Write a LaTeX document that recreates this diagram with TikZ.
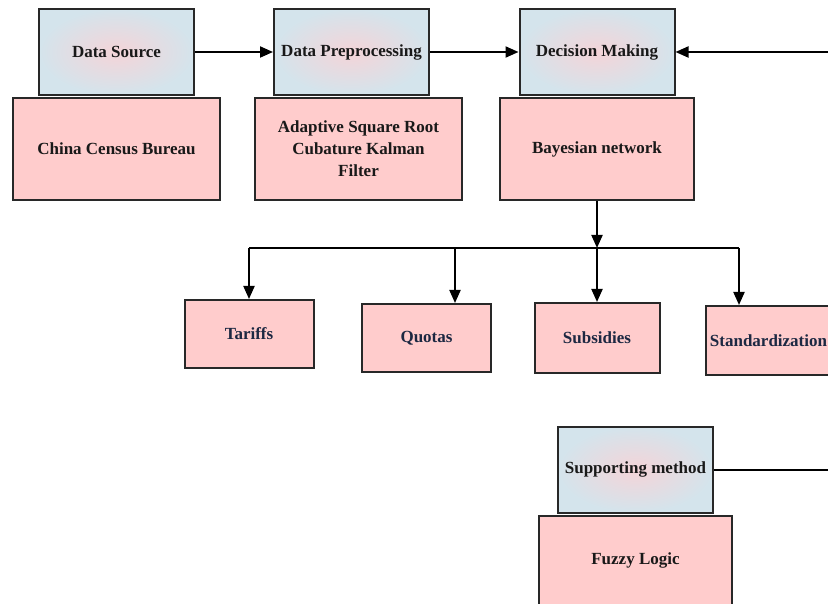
\documentclass[tikz,border=0pt]{standalone}
\usepackage{fontspec}
\setmainfont{Liberation Serif}
\usepackage{xcolor}
\usetikzlibrary{arrows.meta,positioning}
\definecolor{boxPink}{RGB}{255,204,204}
\definecolor{boxBlue}{RGB}{212,228,236}
\definecolor{boxBlush}{RGB}{244,212,216}
\definecolor{boxEdge}{RGB}{40,40,40}
\definecolor{txtNavy}{RGB}{28,40,66}
\definecolor{txtDark}{RGB}{25,25,25}

\tikzset{
  stage/.style={draw=boxEdge, line width=2pt, inner sep=0pt,
    inner color=boxBlush, outer color=boxBlue, text=txtDark,
    font=\bfseries\fontsize{17}{22}\selectfont,
    minimum width=155pt, minimum height=86pt},
  method/.style={draw=boxEdge, line width=2pt, fill=boxPink, inner sep=0pt,
    text=txtDark, font=\bfseries\fontsize{17}{22}\selectfont, align=center,
    minimum width=207pt, minimum height=102pt},
  policy/.style={method, text=txtNavy, minimum width=129pt, minimum height=68pt},
  link/.style={black, line width=2pt},
  arr/.style={link, -{Triangle[length=13pt,width=11pt]}}
}

\begin{document}
\begin{tikzpicture}[x=1pt,y=-1pt]
\clip (0,0) rectangle (828,604);
\fill[white] (0,0) rectangle (828,604);
% top row
\node[stage] (src) at (116.5,52) {Data Source};
\node[method, below=1pt of src] (census) {China Census Bureau};
\node[stage] (prep) at (351.5,52) {Data Preprocessing};
\node[method, below=1pt of prep, xshift=7pt] (filter) {Adaptive Square Root\\Cubature Kalman\\Filter};
\node[stage] (decide) at (597,52) {Decision Making};
\node[method, below=1pt of decide, minimum width=194pt] (bayes) {Bayesian network};
% policy instruments
\node[policy] (tariffs) at (249,334) {Tariffs};
\node[policy] (quotas) at (426.5,338) {Quotas};
\node[policy, minimum width=125pt, minimum height=70pt] (subsidies) at (597,338) {Subsidies};
\node[policy, minimum width=125pt, minimum height=69pt] (standard) at (768.5,340.5) {Standardization};
% supporting method
\node[stage] (support) at (635.5,469.5) {Supporting method};
\node[method, below=1pt of support, minimum width=193pt, minimum height=90pt] (fuzzy) {Fuzzy Logic};

\coordinate (rin) at (828,52);
\coordinate (rsup) at (828,470);
\coordinate (split) at (597,248);
\coordinate (bq) at (455,248);
\coordinate (bs) at (739,248);

\draw[arr] (src.east) -- (prep.west);
\draw[arr] (prep.east) -- (decide.west);
\draw[arr] (rin) -- (decide.east);
\draw[arr] (bayes.south) -- (split);
\draw[link] (tariffs.north |- split) -- (bs);
\draw[arr] (tariffs.north |- split) -- (tariffs.north);
\draw[arr] (bq) -- (bq |- quotas.north);
\draw[arr] (split) -- (split |- subsidies.north);
\draw[arr] (bs) -- (bs |- standard.north);
\draw[link] (support.east |- rsup) -- (rsup);
\end{tikzpicture}
\end{document}
